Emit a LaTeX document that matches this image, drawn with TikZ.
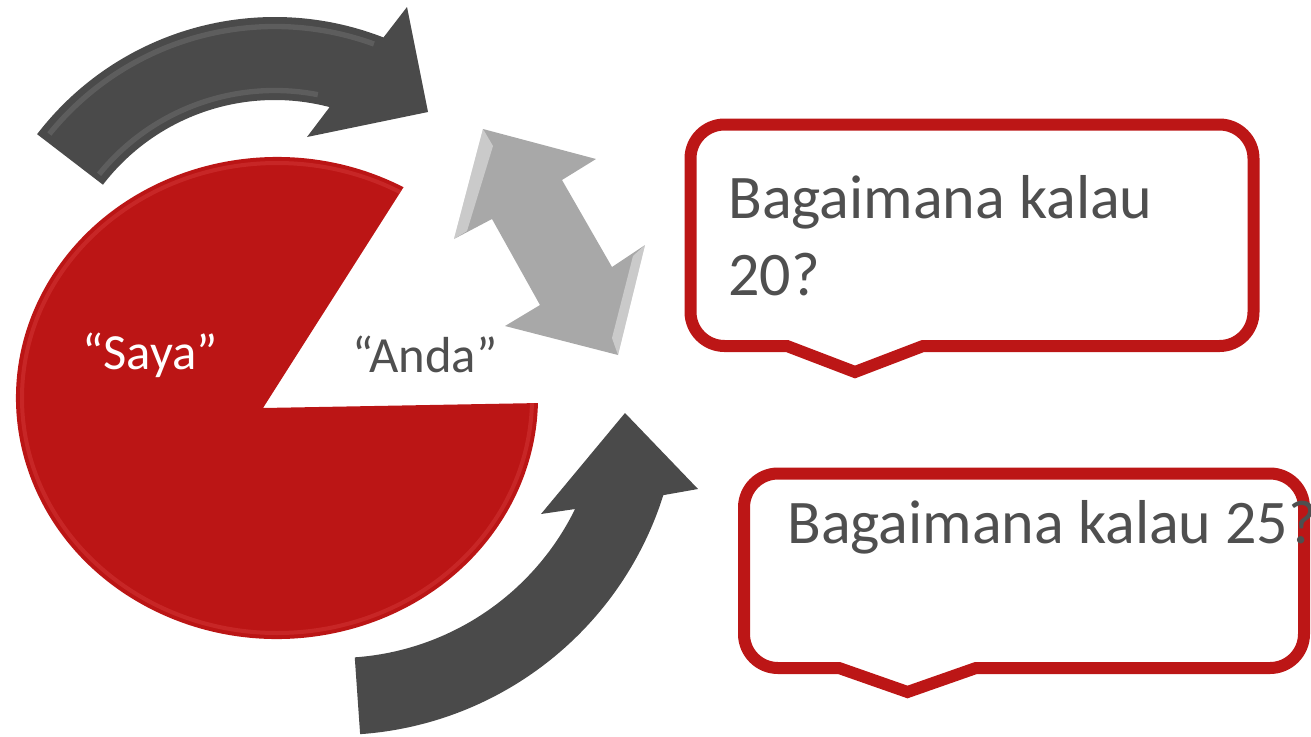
\documentclass[tikz,border=0pt]{standalone}
\usepackage{fontspec}
\setmainfont{Carlito}
\definecolor{pieRed}{HTML}{BB1515}
\definecolor{pieHi}{HTML}{E04848}
\definecolor{boxRed}{HTML}{BC1616}
\definecolor{arrowDark}{HTML}{4A4A4A}
\definecolor{arrowHi}{HTML}{8C8C8C}
\definecolor{arrowLight}{HTML}{A8A8A8}
\definecolor{textGray}{HTML}{4F4F4F}
\begin{document}
\begin{tikzpicture}[x=0.75pt,y=-0.75pt,
  callout/.style={draw=boxRed, line width=9pt, fill=white, line join=miter, miter limit=4},
  darkarrow/.style={fill=arrowDark},
  lightarrow/.style={fill=arrowLight},
  bevel/.style={draw=arrowHi, line width=4pt, opacity=0.3},
  boxtext/.style={font=\fontsize{46.5pt}{56pt}\selectfont, text=textGray, inner sep=0, anchor=base west},
  pietext/.style={font=\fontsize{38pt}{46pt}\selectfont, inner sep=0, anchor=base west}]
\useasboundingbox (0,0) rectangle (1311,736);

% ---------- pie ----------
\coordinate (pc) at (277,398);
\coordinate (pv) at (263,408);
\fill[pieRed] (pv) -- ([shift={(pc)}]-61:261 and 241)
  arc[start angle=-61, end angle=-358.8, x radius=261, y radius=241] -- cycle;
\begin{scope}
  \clip (pv) -- ([shift={(pc)}]-61:261 and 241)
    arc[start angle=-61, end angle=-358.8, x radius=261, y radius=241] -- cycle;
  \draw[pieHi, line width=3pt, opacity=0.35] (pc) ellipse [x radius=255, y radius=235];
\end{scope}

% ---------- top curved arrow ----------
\coordinate (c1) at (274.7,316.5);
\fill[darkarrow] ([shift={(c1)}]-142.5:299.5)
  arc[start angle=-142.5, end angle=-68.7, radius=299.5]
  -- (407,7) -- (428,112) -- (307,137)
  -- ([shift={(c1)}]-75.3:216.5)
  arc[start angle=-75.3, end angle=-142.5, radius=216.5] -- cycle;
\draw[bevel] ([shift={(c1)}]-141:290) arc[start angle=-141, end angle=-70, radius=290];
\draw[bevel] ([shift={(c1)}]-141:226) arc[start angle=-141, end angle=-79, radius=226];

% ---------- bottom curved arrow ----------
\coordinate (c2) at (336.2,392);
\fill[darkarrow] ([shift={(c2)}]86:343) -- ([shift={(c2)}]86:266)
  arc[start angle=86, end angle=26.1, radius=266]
  -- (541,514) -- (625,413) -- (698,489)
  -- ([shift={(c2)}]17.5:343)
  arc[start angle=17.5, end angle=86, radius=343] -- cycle;

% ---------- double arrow ----------
\fill[lightarrow] (483,129) -- (596,159) -- (562,180) -- (612,267) -- (645,245)
  -- (618,355) -- (505,326) -- (540,305) -- (492,219) -- (454,239) -- cycle;
\fill[white, opacity=0.4] (483,129) -- (454,239) -- (467,231) -- (493,146) -- cycle;
\fill[white, opacity=0.4] (645,245) -- (618,355) -- (612,338) -- (633,256) -- cycle;

% ---------- callouts ----------
\draw[callout] (787,346) -- (724.5,346) arc[start angle=90, end angle=180, radius=34]
  -- (690.5,158.5) arc[start angle=180, end angle=270, radius=34]
  -- (1219.5,124.5) arc[start angle=270, end angle=360, radius=34]
  -- (1253.5,312) arc[start angle=0, end angle=90, radius=34]
  -- (923,346) -- (855,372) -- cycle;
\draw[callout] (839,668) -- (778,668) arc[start angle=90, end angle=180, radius=34]
  -- (744,507.5) arc[start angle=180, end angle=270, radius=34]
  -- (1270,473.5) arc[start angle=270, end angle=360, radius=34]
  -- (1304,634) arc[start angle=0, end angle=90, radius=34]
  -- (976,668) -- (907.5,692) -- cycle;

% ---------- texts ----------
\node[pietext, text=white] (saya) at (82,369) {“Saya”};
\node[pietext, text=textGray] (anda) at (352,372) {“Anda”};
\node[boxtext] (q1a) at (728,218) {Bagaimana kalau};
\node[boxtext] (q1b) at (728,295) {20?};
\node[boxtext] (q2) at (787,543) {Bagaimana kalau 25?};
\end{tikzpicture}
\end{document}
